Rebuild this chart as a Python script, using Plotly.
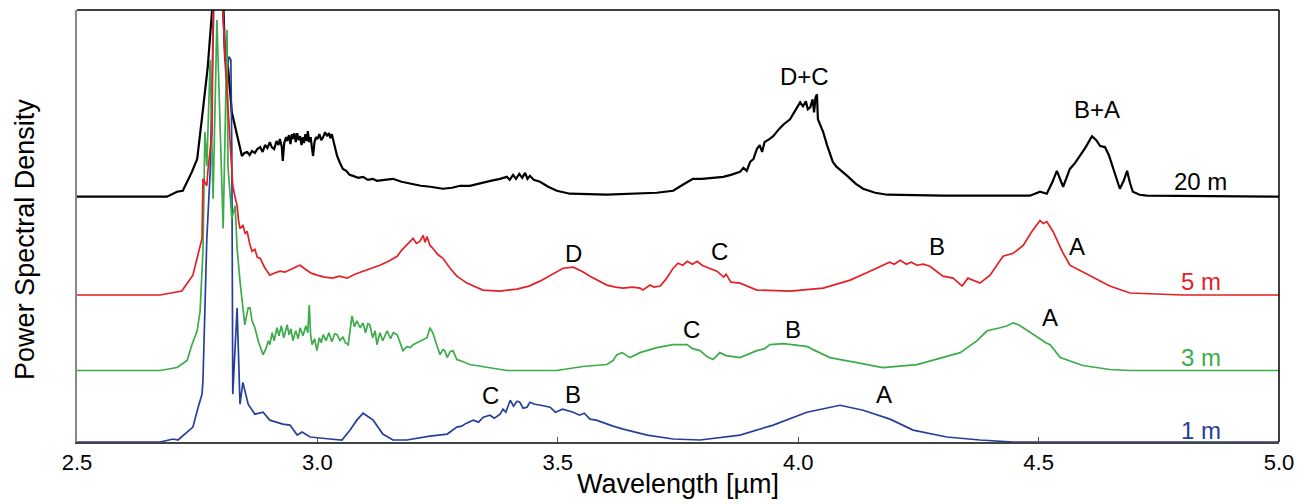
import plotly.graph_objects as go

# Stacked spectra: wavelength (µm) and intensity above each spectrum's own baseline (a.u.)
offsets = {"20 m": 247, "5 m": 148, "3 m": 72, "1 m": 0}

wl_20 = [2.50, 2.687, 2.708, 2.720, 2.739, 2.750, 2.762, 2.772, 2.781, 2.785, 2.797, 2.804, 2.808, 2.814,
         2.822, 2.833, 2.843, 2.848, 2.854, 2.859, 2.864, 2.870, 2.875, 2.881, 2.886, 2.891, 2.896, 2.901,
         2.905, 2.910, 2.915, 2.919, 2.922, 2.926, 2.928, 2.931, 2.935, 2.937, 2.941, 2.944, 2.947, 2.949,
         2.952, 2.955, 2.958, 2.961, 2.964, 2.967, 2.970, 2.972, 2.975, 2.978, 2.980, 2.983, 2.986, 2.989,
         2.991, 2.994, 2.997, 3.000, 3.004, 3.008, 3.012, 3.016, 3.020, 3.024, 3.027, 3.030, 3.034, 3.037,
         3.041, 3.047, 3.053, 3.060, 3.067, 3.074, 3.085, 3.095, 3.105, 3.115, 3.124, 3.140, 3.157, 3.175,
         3.193, 3.215, 3.235, 3.261, 3.280, 3.297, 3.317, 3.340, 3.360, 3.380, 3.394, 3.400, 3.407, 3.413,
         3.420, 3.426, 3.432, 3.437, 3.442, 3.450, 3.463, 3.480, 3.498, 3.525, 3.602, 3.706, 3.740, 3.760,
         3.781, 3.800, 3.820, 3.844, 3.860, 3.879, 3.886, 3.893, 3.900, 3.907, 3.914, 3.920, 3.925, 3.930,
         3.940, 3.948, 3.960, 3.970, 3.983, 3.993, 4.004, 4.010, 4.016, 4.020, 4.025, 4.030, 4.033, 4.036,
         4.039, 4.041, 4.046, 4.052, 4.060, 4.066, 4.072, 4.080, 4.088, 4.095, 4.102, 4.120, 4.135, 4.160,
         4.185, 4.300, 4.482, 4.503, 4.517, 4.528, 4.538, 4.551, 4.558, 4.565, 4.576, 4.586, 4.598, 4.611,
         4.620, 4.628, 4.638, 4.646, 4.655, 4.662, 4.669, 4.677, 4.684, 4.690, 4.696, 4.710, 4.725, 5.00]
psd_20 = [0, 0, 5, 6, 25, 38, 88, 131, 188, 230, 235, 200, 138, 131,
          85, 61, 41, 44, 45, 42, 46, 44, 48, 50, 45, 52, 49, 55,
          50, 48, 56, 52, 58, 50, 36, 54, 60, 56, 62, 53, 63, 58,
          64, 55, 64, 57, 61, 52, 60, 54, 63, 56, 66, 55, 60, 48,
          41, 55, 60, 58, 63, 57, 60, 65, 61, 64, 59, 63, 55, 48,
          41, 34, 28, 26, 22, 21, 19, 20, 17, 18, 16, 17, 18, 15,
          13, 11, 10, 8, 9, 11, 11, 14, 16, 18, 20, 17, 22, 18,
          23, 19, 24, 18, 21, 17, 15, 10, 6, 3, 2, 4, 6, 12,
          18, 18, 19, 20, 22, 25, 29, 26, 35, 38, 48, 52, 45, 55,
          58, 61, 68, 73, 78, 86, 95, 91, 96, 88, 90, 98, 85, 100,
          103, 78, 72, 65, 52, 44, 35, 30, 27, 24, 21, 13, 8, 4,
          2, 1, 1, 5, 3, 14, 26, 10, 20, 28, 34, 41, 50, 61,
          57, 51, 50, 42, 28, 17, 8, 16, 26, 14, 5, 2, 1, 0]

wl_5 = [2.50, 2.673, 2.718, 2.741, 2.760, 2.762, 2.770, 2.772, 2.781, 2.783, 2.802, 2.808, 2.818, 2.824,
        2.829, 2.833, 2.836, 2.839, 2.845, 2.850, 2.854, 2.859, 2.864, 2.870, 2.875, 2.881, 2.890, 2.901,
        2.910, 2.922, 2.932, 2.943, 2.950, 2.958, 2.964, 2.975, 2.987, 2.999, 3.015, 3.032, 3.045, 3.062,
        3.078, 3.095, 3.112, 3.130, 3.148, 3.166, 3.175, 3.185, 3.192, 3.199, 3.206, 3.213, 3.220, 3.224,
        3.228, 3.234, 3.240, 3.250, 3.261, 3.276, 3.290, 3.311, 3.344, 3.380, 3.415, 3.440, 3.463, 3.490,
        3.511, 3.532, 3.550, 3.567, 3.585, 3.602, 3.620, 3.636, 3.655, 3.671, 3.677, 3.692, 3.700, 3.713,
        3.725, 3.740, 3.750, 3.760, 3.769, 3.780, 3.790, 3.800, 3.815, 3.831, 3.845, 3.850, 3.860, 3.879,
        3.914, 3.983, 4.052, 4.108, 4.140, 4.176, 4.190, 4.200, 4.212, 4.225, 4.235, 4.247, 4.260, 4.274,
        4.285, 4.301, 4.322, 4.341, 4.353, 4.378, 4.399, 4.426, 4.447, 4.468, 4.486, 4.495, 4.503, 4.510,
        4.517, 4.530, 4.549, 4.565, 4.607, 4.648, 4.690, 4.800, 5.00]
psd_5 = [0, 0, 4, 20, 57, 117, 110, 124, 164, 300, 300, 240, 157, 110,
         98, 90, 75, 67, 70, 62, 64, 52, 44, 46, 38, 37, 28, 20,
         22, 24, 23, 25, 27, 29, 30, 26, 22, 20, 18, 17, 19, 17,
         21, 24, 27, 30, 34, 39, 45, 50, 54, 57, 52, 54, 60, 53,
         59, 50, 47, 41, 37, 27, 19, 12, 5, 4, 6, 9, 14, 21,
         27, 28, 24, 19, 14, 10, 8, 7, 8, 7, 5, 10, 8, 9,
         16, 27, 32, 30, 34, 31, 34, 30, 27, 24, 18, 21, 13, 12,
         5, 4, 7, 15, 22, 30, 33, 31, 35, 31, 33, 30, 31, 29,
         25, 19, 17, 9, 17, 12, 20, 39, 42, 50, 64, 70, 75, 72,
         74, 64, 44, 30, 19, 9, 2, 0, 0]

wl_3 = [2.50, 2.673, 2.708, 2.729, 2.739, 2.750, 2.756, 2.762, 2.766, 2.770, 2.777, 2.783, 2.791, 2.797,
        2.804, 2.808, 2.812, 2.814, 2.822, 2.829, 2.833, 2.839, 2.845, 2.849, 2.853, 2.856, 2.860, 2.864,
        2.870, 2.878, 2.887, 2.893, 2.898, 2.901, 2.906, 2.910, 2.916, 2.920, 2.925, 2.930, 2.937, 2.941,
        2.945, 2.949, 2.955, 2.960, 2.964, 2.970, 2.976, 2.980, 2.983, 2.986, 2.989, 2.994, 2.999, 3.004,
        3.008, 3.012, 3.018, 3.024, 3.030, 3.036, 3.041, 3.047, 3.053, 3.058, 3.064, 3.068, 3.072, 3.077,
        3.082, 3.089, 3.095, 3.100, 3.105, 3.109, 3.115, 3.120, 3.124, 3.130, 3.136, 3.145, 3.152, 3.158,
        3.166, 3.172, 3.178, 3.186, 3.193, 3.199, 3.212, 3.222, 3.228, 3.234, 3.240, 3.248, 3.255, 3.261,
        3.265, 3.270, 3.276, 3.282, 3.290, 3.297, 3.317, 3.394, 3.498, 3.552, 3.602, 3.615, 3.623, 3.634,
        3.650, 3.671, 3.706, 3.740, 3.769, 3.780, 3.796, 3.810, 3.823, 3.837, 3.850, 3.879, 3.914, 3.930,
        3.941, 3.970, 4.004, 4.020, 4.031, 4.066, 4.122, 4.176, 4.247, 4.316, 4.337, 4.372, 4.393, 4.420,
        4.435, 4.447, 4.458, 4.468, 4.490, 4.503, 4.515, 4.524, 4.545, 4.592, 4.648, 4.690, 5.00]
psd_3 = [0, 0, 3, 10, 26, 40, 60, 120, 240, 206, 313, 173, 353, 263,
         143, 240, 343, 206, 153, 166, 123, 90, 60, 46, 56, 63, 63, 50,
         43, 28, 16, 22, 30, 26, 38, 30, 43, 35, 45, 33, 46, 36,
         42, 30, 40, 32, 43, 35, 45, 38, 66, 35, 26, 32, 20, 33,
         28, 36, 30, 38, 29, 37, 36, 30, 34, 28, 26, 40, 55, 44,
         50, 43, 48, 38, 47, 46, 33, 40, 26, 38, 30, 40, 32, 38,
         36, 28, 20, 24, 23, 26, 29, 31, 33, 43, 38, 26, 16, 21,
         20, 13, 19, 20, 11, 10, 6, 0, 0, 4, 6, 10, 16, 18,
         13, 18, 23, 26, 26, 22, 20, 14, 11, 18, 15, 13, 20, 22,
         26, 27, 25, 24, 21, 13, 8, 3, 6, 15, 18, 30, 40, 43,
         45, 48, 46, 43, 36, 31, 28, 26, 13, 5, 1, 0, 0]

wl_1 = [2.50, 2.673, 2.700, 2.710, 2.729, 2.741, 2.752, 2.760, 2.762, 2.770, 2.777, 2.781, 2.785, 2.802,
        2.810, 2.816, 2.820, 2.822, 2.824, 2.833, 2.839, 2.845, 2.856, 2.870, 2.887, 2.901, 2.928, 2.943,
        2.958, 2.968, 2.985, 3.026, 3.051, 3.068, 3.082, 3.095, 3.116, 3.136, 3.157, 3.186, 3.234, 3.270,
        3.290, 3.300, 3.310, 3.324, 3.335, 3.345, 3.359, 3.368, 3.380, 3.386, 3.392, 3.401, 3.408, 3.415,
        3.421, 3.428, 3.436, 3.442, 3.452, 3.465, 3.484, 3.495, 3.510, 3.532, 3.545, 3.555, 3.567, 3.580,
        3.602, 3.615, 3.636, 3.660, 3.686, 3.740, 3.796, 3.879, 3.948, 4.018, 4.087, 4.135, 4.191, 4.239,
        4.309, 4.378, 4.447, 5.00]
psd_1 = [0, 0, 3, 2, 10, 15, 35, 48, 62, 205, 272, 388, 450, 450,
         365, 388, 385, 295, 48, 135, 38, 60, 38, 28, 30, 22, 18, 17,
         7, 10, 5, 3, 2, 12, 22, 29, 22, 8, 2, 2, 6, 8,
         15, 16, 19, 22, 20, 25, 27, 24, 28, 33, 30, 42, 36, 41,
         40, 34, 35, 40, 38, 37, 35, 30, 33, 30, 27, 29, 23, 22,
         18, 16, 13, 10, 7, 3, 2, 7, 17, 30, 37, 32, 23, 12,
         5, 2, 0, 0]

series = [
    ("20 m", wl_20, psd_20, "#000000", 2.2),
    ("1 m", wl_1, psd_1, "#26409a", 1.7),
    ("3 m", wl_3, psd_3, "#3cab4a", 1.7),
    ("5 m", wl_5, psd_5, "#e41f26", 1.7),
]

# Peak labels: (text, wavelength, height above the series baseline, series)
peak_labels = [
    ("D+C", 4.014, 121, "20 m"), ("B+A", 4.621, 88, "20 m"),
    ("D", 3.532, 42, "5 m"), ("C", 3.837, 44, "5 m"), ("B", 4.289, 49, "5 m"), ("A", 4.580, 49, "5 m"),
    ("C", 3.779, 41, "3 m"), ("B", 3.989, 41, "3 m"), ("A", 4.524, 53, "3 m"),
    ("C", 3.359, 47, "1 m"), ("B", 3.532, 48, "1 m"), ("A", 4.178, 48, "1 m"),
]
series_label_x = 4.837
series_label_dy = {"20 m": 15, "5 m": 14, "3 m": 13, "1 m": 12}
label_colors = {"20 m": "#000000", "5 m": "#e41f26", "3 m": "#3cab4a", "1 m": "#26409a"}

xticks = [2.5, 3.0, 3.5, 4.0, 4.5, 5.0]
xtick_text = ["2.5", "3.0", "3.5", "4.0", "4.5", "5.0"]

FONT = "Arial, Liberation Sans, sans-serif"

fig = go.Figure()
for name, wl, psd, color, width in series:
    off = offsets[name]
    fig.add_trace(go.Scatter(
        x=wl, y=[v + off for v in psd], mode="lines", name=name,
        line=dict(color=color, width=width), showlegend=False, hoverinfo="skip"))

for text, x, h, s in peak_labels:
    fig.add_annotation(x=x, y=h + offsets[s], text=text, showarrow=False,
                       font=dict(family=FONT, size=24, color="#000000"))

for name, off in offsets.items():
    fig.add_annotation(x=series_label_x, y=off + series_label_dy[name], text=name, showarrow=False,
                       font=dict(family=FONT, size=24, color=label_colors[name]))

# y-axis title (placed slightly below the axis centre, as in the reference)
fig.add_annotation(xref="paper", yref="paper", x=-0.0433, y=0.47, text="Power Spectral Density",
                   textangle=-90, showarrow=False, xanchor="center", yanchor="middle",
                   font=dict(family=FONT, size=27, color="#000000"))

# top and right frame lines
fig.add_shape(type="line", xref="paper", yref="paper", x0=0, x1=1, y0=1, y1=1,
              line=dict(color="#000000", width=1.5))
fig.add_shape(type="line", xref="paper", yref="paper", x0=1, x1=1, y0=0, y1=1,
              line=dict(color="#000000", width=1.5))

fig.update_layout(
    width=1316, height=504, autosize=False,
    margin=dict(l=77, r=37, t=10, b=59),
    paper_bgcolor="white", plot_bgcolor="white",
    font=dict(family=FONT, color="#000000"),
    xaxis=dict(range=[2.5, 5.0], tickvals=xticks, ticktext=xtick_text,
               ticks="inside", ticklen=5, tickcolor="#555555", tickwidth=1,
               showline=True, linecolor="#444444", linewidth=1.5,
               showgrid=False, zeroline=False,
               tickfont=dict(family=FONT, size=22, color="#000000"),
               title=dict(text="Wavelength [µm]", font=dict(family=FONT, size=27), standoff=0)),
    yaxis=dict(range=[0, 435], showticklabels=False, ticks="",
               showline=True, linecolor="#888888", linewidth=1.5,
               showgrid=False, zeroline=False),
)

fig.write_html("out.html")
